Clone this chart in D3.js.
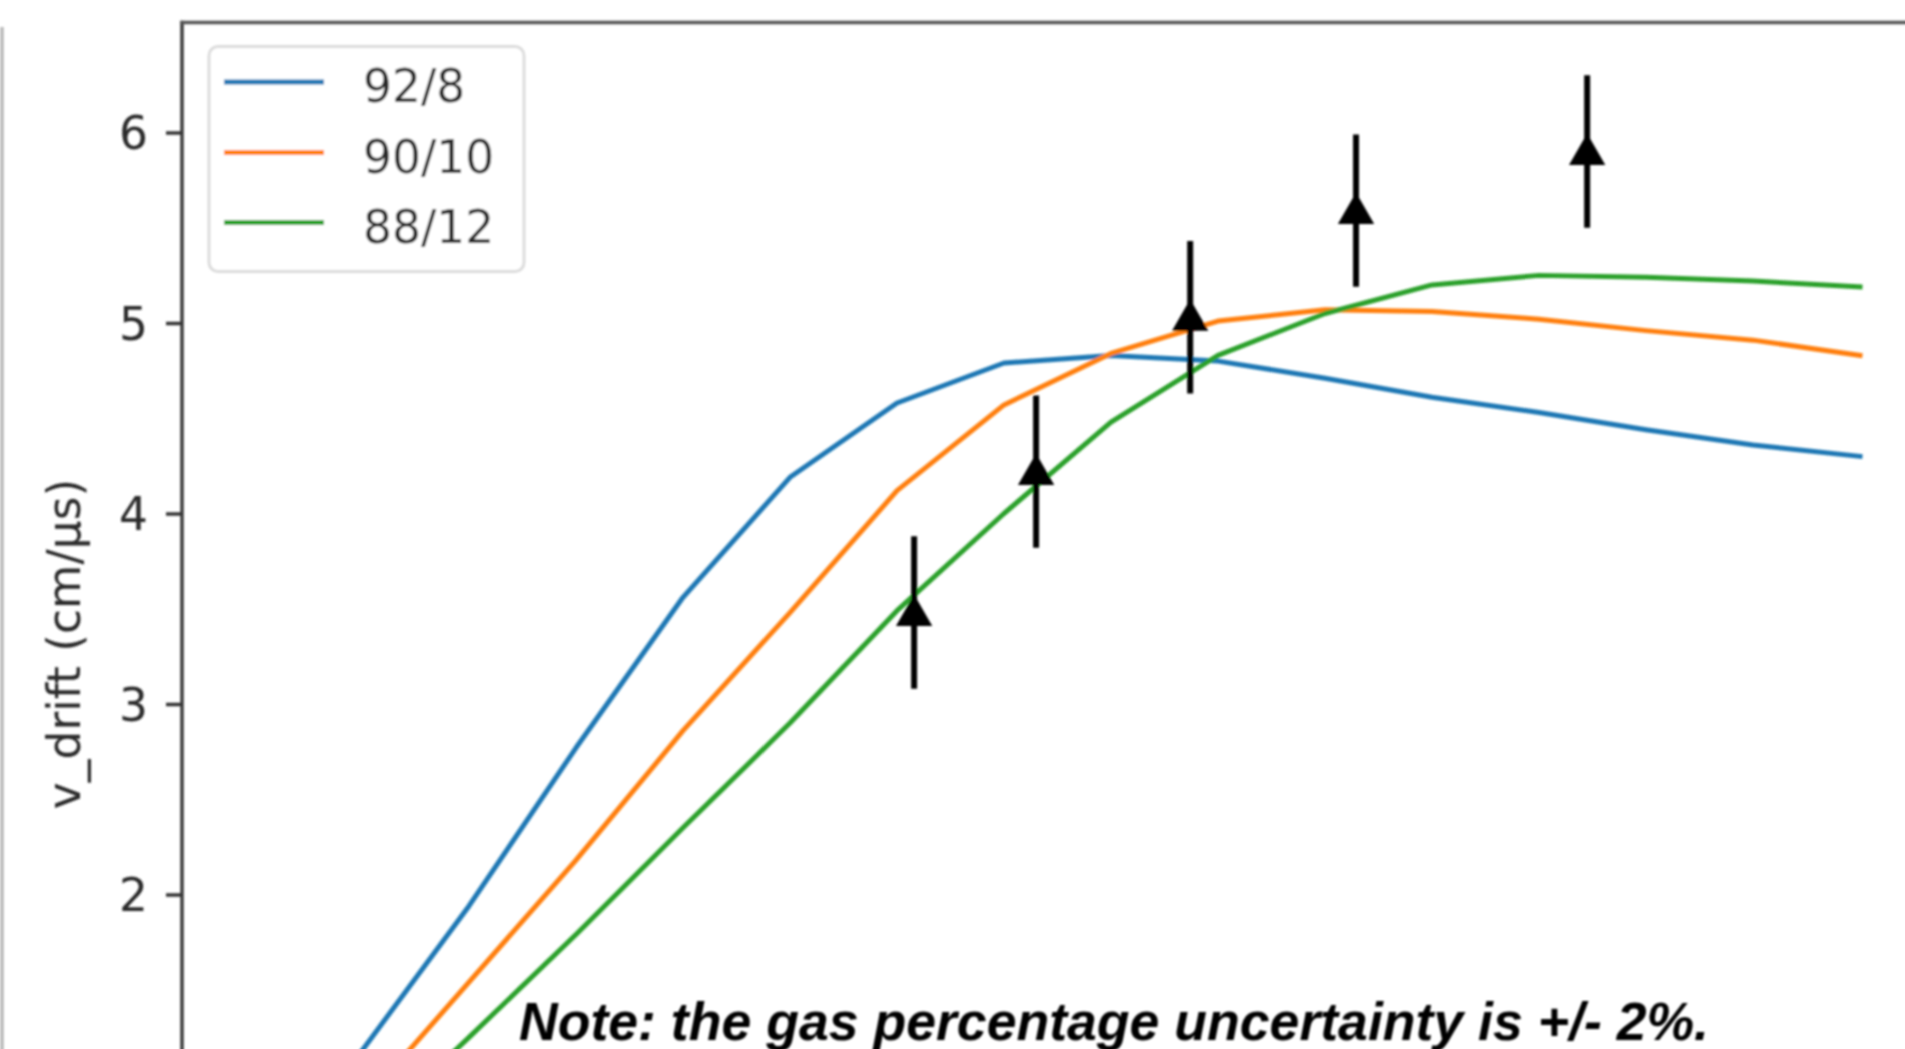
<!DOCTYPE html>
<html>
<head>
<meta charset="utf-8">
<script src="https://cdn.jsdelivr.net/npm/d3@7"></script>
<style>
  html, body { margin: 0; padding: 0; background: #fff; }
  svg { display: block; }
</style>
</head>
<body>
<svg id="chart" width="1905" height="1049"></svg>
<script>
// Simulated drift velocity (cm/us) vs. drift field for three gas mixtures
const fieldGrid = [100, 200, 300, 400, 500, 600, 700, 800, 900, 1000, 1100, 1200, 1300, 1400, 1500];
const mixLabels = ["92/8", "90/10", "88/12"];
const mixColors = ["#1f77b4", "#ff7f0e", "#2ca02c"];
const vMix92_8  = [1.18, 1.94, 2.77, 3.56, 4.19, 4.58, 4.79, 4.83, 4.80, 4.71, 4.61, 4.53, 4.44, 4.36, 4.30];
const vMix90_10 = [0.90, 1.54, 2.18, 2.86, 3.48, 4.12, 4.57, 4.84, 5.01, 5.07, 5.06, 5.02, 4.96, 4.91, 4.83];
const vMix88_12 = [0.72, 1.25, 1.79, 2.35, 2.90, 3.49, 4.00, 4.48, 4.83, 5.05, 5.20, 5.25, 5.24, 5.22, 5.19];

// Measured points with uncertainties
const measField = [616, 730, 874, 1029, 1245];
const measV     = [3.48, 4.22, 5.03, 5.59, 5.90];
const measErr   = [0.40, 0.40, 0.40, 0.40, 0.40];

const yTicks = [2, 3, 4, 5, 6];
const noteText = "Note: the gas percentage uncertainty is +/- 2%.";

const W = 1905, H = 1049;
const axLeft = 182, axTop = 22.5;

const svg = d3.select("#chart");
svg.append("rect").attr("width", W).attr("height", H).attr("fill", "#fff");

const defs = svg.append("defs");
defs.append("filter").attr("id", "soft")
  .attr("filterUnits", "userSpaceOnUse")
  .attr("x", 0).attr("y", 0).attr("width", W).attr("height", H)
  .append("feGaussianBlur").attr("stdDeviation", 1.2);

const g = svg.append("g").attr("filter", "url(#soft)");

const x = d3.scaleLinear().domain([0, 1500]).range([255, 1860]);
const y = d3.scaleLinear().domain([2, 6]).range([894.5, 132.5]);

// edge of the neighbouring panel
g.append("line")
  .attr("x1", 2).attr("x2", 2).attr("y1", 27).attr("y2", H + 10)
  .attr("stroke", "#b8b8b8").attr("stroke-width", 3.5);

// spines
g.append("line")
  .attr("x1", axLeft).attr("x2", axLeft).attr("y1", axTop - 1.7).attr("y2", H + 10)
  .attr("stroke", "#3a3a3a").attr("stroke-width", 3.5);
g.append("line")
  .attr("x1", axLeft - 1.7).attr("x2", W + 10).attr("y1", axTop).attr("y2", axTop)
  .attr("stroke", "#555").attr("stroke-width", 3.5);

// y axis
const yAxis = d3.axisLeft(y).tickValues(yTicks).tickSize(16).tickSizeOuter(0).tickPadding(18)
  .tickFormat(d3.format("d"));
const ya = g.append("g").attr("transform", `translate(${axLeft},0)`).call(yAxis);
ya.select(".domain").remove();
ya.selectAll(".tick line").attr("stroke", "#333").attr("stroke-width", 3.5);
ya.selectAll(".tick text")
  .attr("font-family", "DejaVu Sans").attr("font-size", 45.5)
  .attr("fill", "#2a2a2a").attr("dy", "0.36em");

g.append("text")
  .attr("transform", "translate(80,644) rotate(-90)")
  .attr("text-anchor", "middle")
  .attr("font-family", "DejaVu Sans").attr("font-size", 45.5)
  .attr("fill", "#2a2a2a")
  .text("v_drift (cm/\u03bcs)");

// simulation curves
const series = [vMix92_8, vMix90_10, vMix88_12];
const line = d3.line().x((d, i) => x(fieldGrid[i])).y(d => y(d));
series.forEach((vals, k) => {
  g.append("path")
    .attr("d", line(vals))
    .attr("fill", "none")
    .attr("stroke", mixColors[k])
    .attr("stroke-width", 5)
    .attr("stroke-linejoin", "round")
    .attr("stroke-linecap", "square");
});

// measurements: error bars and triangle markers
const meas = measField.map((f, i) => ({ f, v: measV[i], e: measErr[i] }));
g.selectAll(".err").data(meas).enter().append("line")
  .attr("x1", d => x(d.f)).attr("x2", d => x(d.f))
  .attr("y1", d => y(d.v + d.e)).attr("y2", d => y(d.v - d.e))
  .attr("stroke", "#000").attr("stroke-width", 6);
const tri = d3.symbol().type(d3.symbolTriangle).size(420);
g.selectAll(".mk").data(meas).enter().append("path")
  .attr("d", tri)
  .attr("transform", d => `translate(${x(d.f)},${y(d.v) + 3})`)
  .attr("fill", "#000").attr("stroke", "#000").attr("stroke-width", 3);

// legend
const leg = g.append("g");
leg.append("rect")
  .attr("x", 209).attr("y", 46.5).attr("width", 315).attr("height", 225)
  .attr("rx", 9).attr("fill", "#fff")
  .attr("stroke", "#dcdcdc").attr("stroke-width", 3);
const legY = [82, 152.5, 222.5];
mixLabels.forEach((lab, k) => {
  leg.append("line")
    .attr("x1", 224).attr("x2", 324).attr("y1", legY[k]).attr("y2", legY[k])
    .attr("stroke", mixColors[k]).attr("stroke-width", 5);
  leg.append("text")
    .attr("x", 363).attr("y", legY[k] + 20)
    .attr("font-family", "DejaVu Sans").attr("font-size", 45.5)
    .attr("fill", "#2a2a2a")
    .text(lab);
});

// note
g.append("text")
  .attr("x", 519).attr("y", 1040)
  .attr("font-family", "Liberation Sans").attr("font-weight", "bold").attr("font-style", "italic")
  .attr("font-size", 54)
  .attr("textLength", 1190).attr("lengthAdjust", "spacingAndGlyphs")
  .attr("fill", "#000")
  .text(noteText);
</script>
</body>
</html>
